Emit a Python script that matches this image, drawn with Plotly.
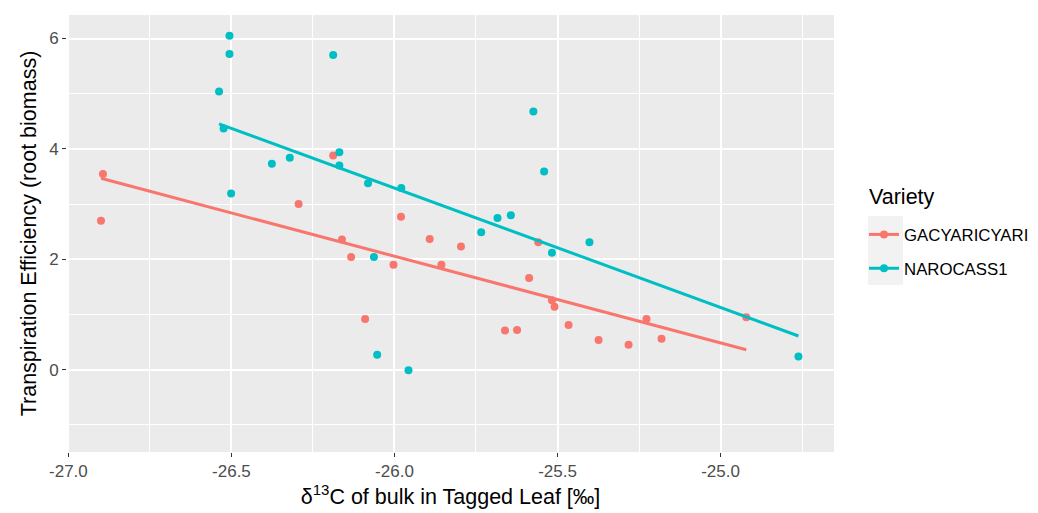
import numpy as np
import plotly.graph_objects as go

# ---- data ----
varieties = ["GACYARICYARI", "NAROCASS1"]
colors = ["#F8766D", "#00BFC4"]

gacy_x = [-26.894, -26.900, -26.188, -26.294, -25.980, -26.161, -26.133, -26.003,
          -25.892, -25.856, -26.090, -25.796, -25.559, -25.587, -25.517, -25.509,
          -25.661, -25.624, -25.466, -25.374, -25.282, -25.227, -25.181, -24.921]
gacy_y = [3.545, 2.70, 3.88, 3.00, 2.77, 2.36, 2.04, 1.90,
          2.37, 1.90, 0.92, 2.23, 2.31, 1.66, 1.26, 1.14,
          0.71, 0.72, 0.81, 0.54, 0.45, 0.92, 0.56, 0.95]

naro_x = [-26.506, -26.506, -26.538, -26.524, -26.188, -26.169, -26.376, -26.321,
          -26.169, -26.081, -25.979, -26.501, -26.063, -26.053, -25.957, -25.574,
          -25.541, -25.684, -25.643, -25.734, -25.517, -25.402, -24.761]
naro_y = [6.05, 5.72, 5.04, 4.37, 5.70, 3.94, 3.73, 3.84,
          3.70, 3.38, 3.29, 3.19, 2.04, 0.27, -0.01, 4.68,
          3.59, 2.75, 2.80, 2.49, 2.12, 2.31, 0.24]

x_tickvals = [-27.0, -26.5, -26.0, -25.5, -25.0]
x_ticktext = ["-27.0", "-26.5", "-26.0", "-25.5", "-25.0"]
y_tickvals = [0, 2, 4, 6]
y_ticktext = ["0", "2", "4", "6"]

x_title = "\u03b4<sup>13</sup>C of bulk in Tagged Leaf [\u2030]"
y_title = "Transpiration Efficiency (root biomass)"
legend_title = "Variety"

series = [(gacy_x, gacy_y), (naro_x, naro_y)]

FONT = "Liberation Sans, Arial, sans-serif"

fig = go.Figure()

for name, col, (xs, ys) in zip(varieties, colors, series):
    xs = np.array(xs)
    ys = np.array(ys)
    # fitted linear trend (lm) over the group's x range
    b1, b0 = np.polyfit(xs, ys, 1)
    fx = np.array([xs.min(), xs.max()])
    fig.add_trace(go.Scatter(
        x=xs, y=ys, mode="markers",
        marker=dict(color=col, size=8, line=dict(width=0)),
        showlegend=False, hoverinfo="x+y"))
    fig.add_trace(go.Scatter(
        x=fx, y=b0 + b1 * fx, mode="lines",
        line=dict(color=col, width=3),
        showlegend=False, hoverinfo="skip"))

# legend entries (point + line key, like ggplot)
for name, col in zip(varieties, colors):
    fig.add_trace(go.Scatter(
        x=[None], y=[None], mode="lines+markers", name=name,
        legendgroup=name,
        marker=dict(color=col, size=8),
        line=dict(color=col, width=3)))

# panel pixel geometry
W, H = 1038, 513
L, R, T, B = 59.3, 212, 7, 69
pw = W - L - R
ph = H - T - B

def px2paper_x(px):
    return (px - L) / pw

def px2paper_y(py):
    return (H - B - py) / ph

# grey legend-key background
fig.add_shape(type="rect", xref="paper", yref="paper",
              x0=px2paper_x(860), x1=px2paper_x(895),
              y0=px2paper_y(277), y1=px2paper_y(208),
              fillcolor="#F2F2F2", line=dict(width=0), layer="below")

# legend title
fig.add_annotation(text=legend_title, xref="paper", yref="paper",
                   x=px2paper_x(859), y=px2paper_y(189),
                   xanchor="left", yanchor="middle", showarrow=False,
                   font=dict(size=21.5, color="black"))

fig.update_layout(
    width=W, height=H,
    margin=dict(l=L, r=R, t=T, b=B, pad=0),
    paper_bgcolor="white",
    plot_bgcolor="#EBEBEB",
    font=dict(family=FONT, color="black"),
    showlegend=True,
    legend=dict(
        font=dict(size=16.8, color="black"),
        x=px2paper_x(856), xanchor="left",
        y=px2paper_y(209), yanchor="top",
        bgcolor="rgba(0,0,0,0)", borderwidth=0,
        tracegroupgap=9, itemwidth=30,
    ),
    xaxis=dict(
        range=[-27.0043, -24.652],
        tickmode="array", tickvals=x_tickvals, ticktext=x_ticktext,
        ticks="outside", ticklen=4, tickwidth=1.4, tickcolor="#333333",
        tickfont=dict(size=17, color="#4D4D4D"),
        showgrid=True, gridcolor="white", gridwidth=1.5,
        minor=dict(tickmode="linear", tick0=-27.25, dtick=0.5,
                   showgrid=True, gridcolor="white", gridwidth=0.75, ticks=""),
        zeroline=False, showline=False,
        title=dict(text=x_title, font=dict(size=21.5, color="black"), standoff=8),
        automargin=False,
    ),
    yaxis=dict(
        range=[-1.491, 6.426],
        tickmode="array", tickvals=y_tickvals, ticktext=y_ticktext,
        ticks="outside", ticklen=4, tickwidth=1.4, tickcolor="#333333",
        tickfont=dict(size=17, color="#4D4D4D"),
        showgrid=True, gridcolor="white", gridwidth=1.5,
        minor=dict(tickmode="linear", tick0=-1, dtick=2,
                   showgrid=True, gridcolor="white", gridwidth=0.75, ticks=""),
        zeroline=False, showline=False,
        title=dict(text=y_title, font=dict(size=21.5, color="black"), standoff=6),
        automargin=False,
    ),
)

fig.write_html("out.html")
